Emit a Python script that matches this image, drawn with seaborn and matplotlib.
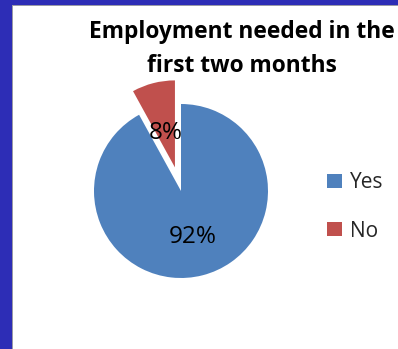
import matplotlib
matplotlib.use("Agg")
import matplotlib.pyplot as plt
from matplotlib.patches import Rectangle
import numpy as np
import seaborn as sns

# Survey answers
categories = ["Yes", "No"]
shares = [92, 8]
title_text = "Employment needed in the\nfirst two months"

sns.set_theme(style="white")
plt.rcParams["font.family"] = ["Open Sans", "DejaVu Sans"]

slice_colors = ["#4F81BD", "#C0504D"]
W, H = 398, 349
fig = plt.figure(figsize=(W / 100, H / 100), dpi=100)
fig.patch.set_facecolor("#2D2DB6")

# white slide panel with a thin grey rim
fig.patches.append(Rectangle((12 / W, 0), 1, (H - 5) / H, transform=fig.transFigure,
                             facecolor="#9A9AA6", edgecolor="none", zorder=-2))
fig.patches.append(Rectangle((13 / W, 0), 1, (H - 6) / H, transform=fig.transFigure,
                             facecolor="white", edgecolor="none", zorder=-1))

# pie axes: centre (181, 191) px, radius 87 px
R, k = 87, 1.4
cx, cy = 181, H - 191
side = 2 * R * k
ax = fig.add_axes([(cx - side / 2) / W, (cy - side / 2) / H, side / W, side / H])
ax.set_facecolor("none")

explode = [0, 0.28]
label_dist = [0.55, 0.41]
wedges, texts, autotexts = ax.pie(
    shares, colors=slice_colors, startangle=90, counterclock=False,
    explode=explode, autopct="%1.0f%%", pctdistance=0.52,
    textprops=dict(fontsize=17.5, color="black"),
    wedgeprops=dict(linewidth=0),
)
# place each percentage along its slice bisector
for w, t, e, d in zip(wedges, autotexts, explode, label_dist):
    mid = np.deg2rad((w.theta1 + w.theta2) / 2)
    t.set_position(((e + d) * np.cos(mid), (e + d) * np.sin(mid)))

ax.set_xlim(-k, k)
ax.set_ylim(-k, k)
ax.set_aspect("equal")
ax.axis("off")

fig.text(242 / W, 1 - 49 / H, title_text, ha="center", va="center",
         fontsize=16.4, fontweight="bold", color="black", linespacing=1.5)

fig.legend(wedges, categories, loc="center left",
           bbox_to_anchor=(327 / W, 1 - 207 / H), frameon=False,
           fontsize=15, handlelength=0.72, handleheight=0.62,
           handletextpad=0.4, labelspacing=1.3, borderpad=0, borderaxespad=0)

fig.savefig("out.png", dpi=100, facecolor=fig.get_facecolor())
